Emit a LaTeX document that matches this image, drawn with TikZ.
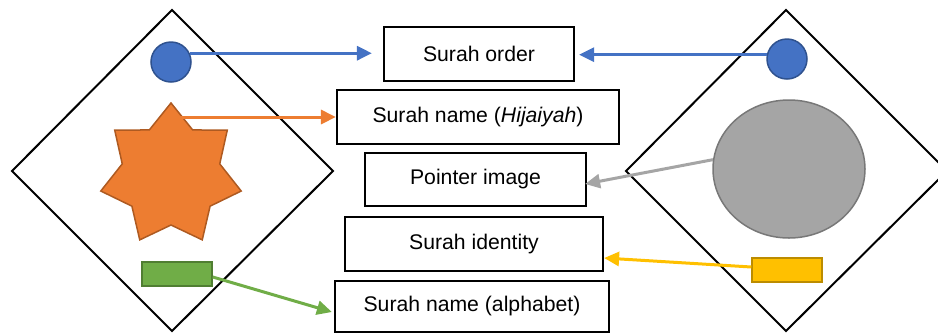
\documentclass[tikz,border=0pt]{standalone}
\usepackage{fontspec}
\setmainfont{Liberation Sans}
\usetikzlibrary{arrows.meta,shapes.geometric,calc}
\definecolor{cblue}{HTML}{4472C4}\definecolor{cblueD}{HTML}{2F528F}
\definecolor{corange}{HTML}{ED7D31}\definecolor{corangeD}{HTML}{AE5A21}
\definecolor{cgreen}{HTML}{70AD47}\definecolor{cgreenD}{HTML}{507E32}
\definecolor{cgrey}{HTML}{A5A5A5}\definecolor{cgreyD}{HTML}{787878}
\definecolor{cyellow}{HTML}{FFC000}\definecolor{cyellowD}{HTML}{BC8C00}
\begin{document}
\begin{tikzpicture}[x=1pt,y=-1pt,
  labelbox/.style={draw=black,line width=2.2pt,inner sep=0pt,font=\fontsize{21.2}{25}\selectfont},
  frame/.style={draw=black,line width=2pt},
  conn/.style={line width=3pt,-{Triangle[length=15pt,width=14pt]}},
  dot/.style={circle,inner sep=0pt,minimum size=40pt,line width=1.5pt}]
\useasboundingbox (0,0) rectangle (938,333);
\begin{scope}
\clip (0,0) rectangle (938,333);
% diamonds
\draw[frame] (172,10) -- (333,171) -- (172,331) -- (12,171) -- cycle;
\draw[frame] (786,10) -- (947,171) -- (786,331) -- (626,171) -- cycle;
% left shapes
\node[dot,fill=cblue,draw=cblueD] (blueL) at (171,62) {};
\begin{scope}[shift={(171,175)}]
\draw[fill=corange,draw=corangeD,line width=1.5pt]
  (-90:72)
  \foreach \k in {0,...,6} {
    -- ({-90+(\k+0.5)*360/7}:50)
    -- ({-90+(\k+1)*360/7}:72)
  } -- cycle;
\end{scope}
\node[fill=cgreen,draw=cgreenD,line width=1.5pt,minimum width=70pt,minimum height=24pt,inner sep=0pt] (green) at (177,274) {};
% right shapes
\node[dot,fill=cblue,draw=cblueD] (blueR) at (787,59) {};
\node[ellipse,fill=cgrey,draw=cgreyD,line width=1.5pt,minimum width=152pt,minimum height=138pt,inner sep=0pt] (ell) at (789,169) {};
\node[fill=cyellow,draw=cyellowD,line width=1.5pt,minimum width=70pt,minimum height=24pt,inner sep=0pt] (yel) at (787,270) {};
\end{scope}
\coordinate (starpt) at (180,117);
% label boxes
\node[labelbox,minimum width=190pt,minimum height=54pt] (order) at (479,54) {Surah order};
\node[labelbox,minimum width=282pt,minimum height=54pt] (hij) at (478,117) {Surah name (\textit{Hijaiyah})};
\node[labelbox,minimum width=221pt,minimum height=53pt] (pointer) at (475.5,179.5) {Pointer image};
\node[labelbox,minimum width=258pt,minimum height=54pt] (ident) at (474,244) {Surah identity};
\node[labelbox,minimum width=274pt,minimum height=51pt] (alph) at (472,306.5) {Surah name (alphabet)};
% connectors
\draw[conn,draw=cblue,fill=cblue] (blueL.25) -- ([xshift=-11pt]order.west |- blueL.25);
\draw[conn,draw=cblue,fill=cblue] (blueR.168) -- ([xshift=4pt]order.east |- blueR.168);
\draw[conn,draw=corange,fill=corange] (starpt) -- (hij.west);
\draw[conn,draw=cgrey,fill=cgrey] (ell.173) -- ([xshift=-2pt,yshift=-4.5pt]pointer.east);
\draw[conn,draw=cyellow,fill=cyellow] ([yshift=3pt]yel.west) -- ([yshift=-14pt]ident.east);
\draw[conn,draw=cgreen,fill=cgreen] ([yshift=-3pt]green.east) -- ([xshift=-2pt,yshift=-5.5pt]alph.west);
\end{tikzpicture}
\end{document}
